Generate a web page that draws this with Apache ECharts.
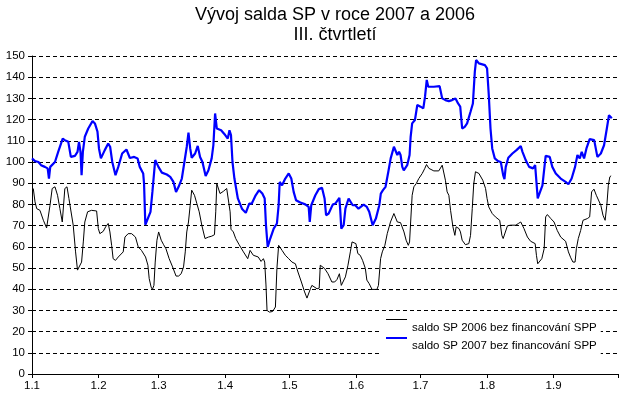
<!DOCTYPE html>
<html>
<head>
<meta charset="utf-8">
<script src="https://cdn.jsdelivr.net/npm/echarts@6/dist/echarts.min.js"></script>
<style>
  html, body { margin: 0; padding: 0; background: #ffffff; }
  #saldo { width: 631px; height: 397px; }
</style>
</head>
<body>
<div id="saldo"></div>
<script>
// osa x = dny od 1.1. (0 = 1.1.)
var monthStarts = [0, 31, 59, 90, 120, 151, 181, 212, 243, 273]
var monthLabels = ['1.1', '1.2', '1.3', '1.4', '1.5', '1.6', '1.7', '1.8', '1.9']

// saldo SP 2006 bez financovani SPP
var days2006 = [0.6, 1.4, 2.2, 3.7, 5.3, 6.8, 7.6, 8.4, 9.4, 10.7, 11.9, 13, 14.1, 14.7, 15.3, 16.3, 17.2, 18.1, 19.2, 20.3,
  21.2, 21.9, 23.1, 23.9, 24.6, 25.9, 27.7, 30.1, 30.9, 31.6, 33.2, 34.3, 35.5, 36.3, 37.1, 37.8, 38.9, 40.2, 42.5, 43.3,
  44.8, 46.4, 48.2, 49.5, 51, 52.9, 54, 54.6, 55.5, 56.1, 56.8, 57.4, 58.2, 59, 60.2, 61.3, 62.4, 63.9, 65.5, 67.1,
  68.3, 69.5, 70.6, 71.4, 72.1, 72.9, 73.7, 74.4, 75.7, 76.8, 77.9, 79.1, 79.9, 80.6, 82.2, 83.7, 85, 85.6, 86.1, 86.9,
  87.6, 89.2, 90.7, 91.5, 92.3, 92.7, 93.8, 94.9, 96.5, 98.5, 100.5, 101.6, 103.1, 105.4, 106.7, 107.8, 108.4, 109, 109.5, 110.6,
  112.1, 113.4, 114.1, 114.9, 116.5, 118, 119.6, 121.1, 122.7, 123.9, 125.5, 127, 128.1, 128.9, 129.7, 130.4, 132.8, 133.8, 134.3, 135.1,
  136.3, 137.9, 139.7, 141, 142.1, 143.2, 144.1, 144.7, 146, 147.2, 148.3, 149.1, 149.8, 150.9, 151.8, 152.9, 154, 155.3, 156, 157.1,
  158.4, 160.7, 161.4, 162.4, 163.2, 164.4, 165.5, 167, 168.6, 169.4, 170.2, 171.7, 173.3, 174.3, 175.3, 175.9, 176.4, 177.1, 177.9, 179,
  180.2, 181.8, 183, 183.8, 184.9, 187.2, 189.5, 191.1, 191.9, 192.6, 193.4, 194.2, 195, 196.1, 197, 197.6, 198.9, 199.6, 200.4, 201.9,
  203.5, 204.3, 205.1, 205.8, 206.6, 208.2, 210, 211.3, 212, 212.8, 214.4, 215.9, 217.9, 218.9, 219.5, 220.4, 221.5, 223, 225.4, 226.6,
  227.7, 229.2, 230.8, 232.3, 234.4, 235, 235.6, 236.2, 237.5, 238.6, 239.3, 240.1, 241.7, 243.2, 244.7, 246.3, 248.6, 249.9, 251, 252,
  253, 253.6, 254.5, 255.6, 256.7, 258.7, 259.8, 260.7, 261.8, 262.9, 263.8, 265, 266, 267, 267.8, 268.5, 269.2, 269.8]
var values2006 = [87.5, 81.2, 78, 77.2, 72.5, 68.9, 69.4, 79.6, 87.5, 88.3, 84.3, 78, 71.7, 71, 87.5, 88.3, 82.8, 82, 70.2, 57.6,
  49, 49.8, 52.8, 62.3, 71.7, 76.5, 77.2, 76.9, 68.6, 66.2, 67.3, 69.4, 71, 67, 60.7, 54.4, 53.6, 55.2, 57.6, 64.6,
  66.2, 66.2, 64.6, 59.9, 58.3, 55.2, 51.3, 45, 41, 39.9, 41.8, 52.8, 63.1, 67, 63.1, 61, 59.1, 54.4, 50.5, 46.2,
  46.2, 47.3, 50.5, 57.6, 67, 71.7, 79.6, 86.7, 84.3, 80.4, 76.5, 70.2, 69.4, 63.9, 64.6, 65, 65.7, 76.5, 89.8, 89,
  85.1, 86.2, 87.5, 86.7, 76.5, 68.3, 67, 63.9, 61, 57.6, 54.4, 58.3, 56, 55.2, 53.1, 54.4, 52.8, 42, 30, 29.2,
  29.5, 31.6, 49.8, 60.7, 58.3, 56, 54.4, 52.8, 52, 48.1, 43.4, 38.7, 35.8, 36.3, 40.2, 41.8, 40.2, 40.5, 51.3, 52,
  49.8, 47.3, 43.4, 43.4, 44.6, 47.3, 41.8, 41.8, 45.8, 51.3, 57.6, 62.3, 63.1, 61.5, 56.8, 56, 53.6, 49.8, 44.3, 42.6,
  39.9, 39.9, 41.8, 54.4, 57.6, 60.7, 66.2, 71.7, 75.7, 76.5, 71.7, 71.4, 67, 63.1, 60.7, 62.3, 71.7, 84.3, 88.3, 89.8,
  92.2, 94.6, 97, 98.8, 97, 95.8, 95.8, 98.5, 98.5, 91.4, 85.9, 84.3, 77.2, 69.4, 65.4, 69.4, 68.6, 67, 63.1, 61,
  61.5, 65.4, 78, 89.8, 95.4, 94.6, 91.4, 87.5, 82.8, 78.8, 75.7, 74.1, 72.5, 65.4, 63.9, 63.9, 69.9, 70.2, 70.2, 71,
  71.7, 68.6, 64.6, 62.6, 61.5, 56, 52, 51.5, 54.4, 59.1, 74.1, 75.2, 73.3, 71.7, 67.7, 64.6, 62.6, 57.6, 54.8, 52.8,
  52.8, 59.1, 63.9, 67.7, 72.5, 73.3, 74.1, 85.9, 87.2, 84.3, 83.9, 79.6, 74.9, 72.5, 79.6, 89, 93, 93.5]

// saldo SP 2007 bez financovani SPP
var days2007 = [0, 1.4, 3, 4.2, 6, 7.3, 7.9, 8.5, 10.7, 12.2, 14.3, 15.3, 16.9, 18.1, 20, 21.2, 21.9, 22.6, 23.1, 23.7,
  24.6, 26.2, 28.2, 29.3, 30.5, 31.2, 32.1, 33.9, 35.5, 36.4, 37.4, 38.9, 40.2, 42, 44, 45.6, 47.6, 49.2, 50.2, 51.8,
  52.2, 52.8, 53.5, 55.2, 56.1, 57.4, 58.9, 60.5, 62.8, 64.4, 65.9, 67.1, 68.3, 69.8, 71, 72.1, 72.9, 73.7, 74.4, 76,
  77.2, 78.3, 79.4, 80.9, 82.2, 83.7, 84.5, 85.3, 86.1, 88.1, 90, 91.2, 92, 92.7, 93.4, 94.3, 95.9, 97.8, 99.6, 101.2,
  102.4, 104.2, 105.8, 107.3, 108.4, 109, 109.8, 111, 112.6, 114.1, 114.9, 115.4, 116.5, 118, 119.6, 120.8, 121.9, 123, 125, 127.3,
  128.9, 129.4, 130.1, 132, 133.6, 135.1, 136.3, 137, 138.2, 140.1, 141.3, 142.1, 143.2, 143.6, 144.1, 145.2, 146, 147.5, 149.4, 150.6,
  152.1, 154.5, 156, 157.1, 158.7, 160.2, 161.8, 162.5, 163.5, 164.7, 166, 167.1, 168.6, 169.4, 170.2, 171, 171.7, 172.5, 173.2, 174.8,
  175.9, 176.4, 177.1, 178.4, 179.5, 181, 182.3, 183.1, 183.9, 184.6, 187.2, 189.9, 191.1, 192.6, 194.2, 195.7, 197.3, 198.5, 199.5, 200.4,
  201.6, 202.7, 204.3, 205.4, 206.3, 206.9, 208.2, 211, 212, 212.8, 213.6, 214.4, 215.6, 217.1, 218.4, 219.2, 219.5, 220.1, 220.7, 221.9,
  223.8, 225.7, 227.7, 228.5, 230, 231.6, 233.4, 234.4, 235, 235.6, 236.2, 237.8, 239.3, 241.2, 242.4, 244, 246.3, 248.6, 249.9, 251.4,
  253, 254.1, 255.2, 256.1, 257.2, 258.3, 259.8, 261.9, 263.4, 265, 266.5, 267.8, 268.8, 270.1]
var values2007 = [101.7, 100.4, 100, 98.5, 97.7, 97, 92.2, 97.7, 100, 104.8, 111, 110.3, 109.5, 102.4, 102.9, 104.8, 109.5, 104.8, 93.8, 104.8,
  111.9, 115.8, 119.3, 118.2, 114.3, 106.4, 101.7, 105.6, 108.7, 107.2, 100, 93.8, 97.7, 104, 105.9, 101.9, 102.4, 101.7, 97.7, 94.6,
  89.8, 70.4, 71, 76.5, 86, 100.9, 97.7, 95, 94.1, 93, 90.6, 85.9, 88.3, 92.2, 100, 107.2, 113.9, 106.4, 102, 104,
  107.6, 102.4, 100, 93.4, 96.1, 101.7, 108, 122.9, 115.8, 115, 112.7, 111.1, 115, 112.7, 100, 92.2, 82.8, 78, 76, 80.4,
  80.4, 84.3, 86.7, 85.1, 82.8, 70.2, 59.9, 63.9, 68.6, 71, 79.6, 90.6, 89, 92.2, 94.6, 92.2, 85.9, 82, 80.9, 80,
  78.8, 71.7, 79.6, 84.3, 87.2, 87.8, 82.8, 74.9, 75.7, 79.9, 80.4, 79.6, 83.1, 77.2, 68.6, 70.2, 78, 82.8, 79.6, 79.6,
  78, 79.9, 78.8, 76.5, 70.2, 73.3, 79.6, 85.1, 86.7, 88.3, 95.4, 101.7, 107.2, 107.6, 103.3, 104.8, 103.3, 97.7, 96.1, 98.5,
  103.3, 111.9, 118.2, 119.8, 126.9, 126.1, 125.3, 130.8, 138.7, 135.5, 135.5, 135.8, 130, 129.2, 128.7, 129.2, 130, 127.6, 126.1, 115.8,
  116.6, 118.2, 123.7, 127.6, 142.6, 148.1, 146.5, 145.7, 144.2, 131.6, 115.8, 106.4, 101.7, 100.4, 100, 99.2, 93.8, 91.9, 97.7, 102,
  104, 105.6, 107.5, 104.8, 100.9, 97.7, 97, 98.5, 90.6, 82.8, 82, 89, 102.9, 102.4, 97.7, 94.6, 92.2, 90.6, 89.5, 92.2,
  97.7, 103.3, 101.7, 104.8, 101.7, 106.4, 110.8, 110.3, 102.4, 104, 107.9, 115.8, 122.1, 120.6]

function pairs(days, values) {
  var out = []
  for (var i = 0; i < days.length; i++) {
    out.push([days[i], values[i]])
  }
  return out
}

var font = 'Liberation Sans, Arial, sans-serif'
var myChart = echarts.init(document.getElementById('saldo'), null, { renderer: 'canvas' })

var option = {
  backgroundColor: '#ffffff',
  animation: false,
  title: {
    text: 'Vývoj salda SP v roce 2007 a 2006\nIII. čtvrtletí',
    left: 330,
    textAlign: 'center',
    top: 0,
    textStyle: {
      fontFamily: font,
      fontSize: 18,
      fontWeight: 'normal',
      color: '#000000',
      lineHeight: 20
    }
  },
  legend: {
    orient: 'vertical',
    left: 382,
    top: 315,
    itemWidth: 21,
    itemHeight: 17,
    itemGap: 1,
    symbolKeepAspect: false,
    padding: [4, 4, 2, 4],
    backgroundColor: '#ffffff',
    data: [
      { name: 'saldo SP 2006 bez financování SPP', icon: 'path://M0,0H21V1H0Z M0,17L0.01,17' },
      { name: 'saldo SP 2007 bez financování SPP', icon: 'path://M0,0H21V2H0Z M0,17L0.01,17' }
    ],
    textStyle: {
      fontFamily: font,
      fontSize: 11.5,
      color: '#000000'
    }
  },
  grid: {
    left: 32,
    right: 13,
    top: 56,
    bottom: 23,
    containLabel: false
  },
  xAxis: {
    type: 'value',
    min: 0,
    max: 273,
    splitLine: { show: false },
    axisLine: { lineStyle: { color: '#000000', width: 1 } },
    axisTick: {
      show: true,
      length: 4,
      customValues: monthStarts,
      lineStyle: { color: '#000000' }
    },
    axisLabel: {
      customValues: monthStarts.slice(0, 9),
      margin: 6,
      fontFamily: font,
      fontSize: 11.5,
      color: '#000000',
      formatter: function(value) {
        var i = monthStarts.indexOf(value)
        return i > -1 ? monthLabels[i] : ''
      }
    }
  },
  yAxis: {
    type: 'value',
    min: 0,
    max: 150,
    interval: 10,
    axisLine: { show: true, lineStyle: { color: '#000000', width: 1 } },
    axisTick: { show: true, length: 4, lineStyle: { color: '#000000' } },
    axisLabel: {
      margin: 7,
      fontFamily: font,
      fontSize: 11.5,
      color: '#000000'
    },
    splitLine: {
      show: true,
      lineStyle: { color: '#000000', width: 1, type: [4, 3] }
    }
  },
  series: [
    {
      name: 'saldo SP 2006 bez financování SPP',
      type: 'line',
      symbol: 'none',
      z: 3,
      lineStyle: { color: '#000000', width: 1 },
      itemStyle: { color: '#000000' },
      data: pairs(days2006, values2006)
    },
    {
      name: 'saldo SP 2007 bez financování SPP',
      type: 'line',
      symbol: 'none',
      z: 4,
      lineStyle: { color: '#0000ff', width: 2.2 },
      itemStyle: { color: '#0000ff' },
      data: pairs(days2007, values2007)
    }
  ]
}

myChart.setOption(option, true)
window.addEventListener('resize', () => {
  myChart.resize()
})
</script>
</body>
</html>
